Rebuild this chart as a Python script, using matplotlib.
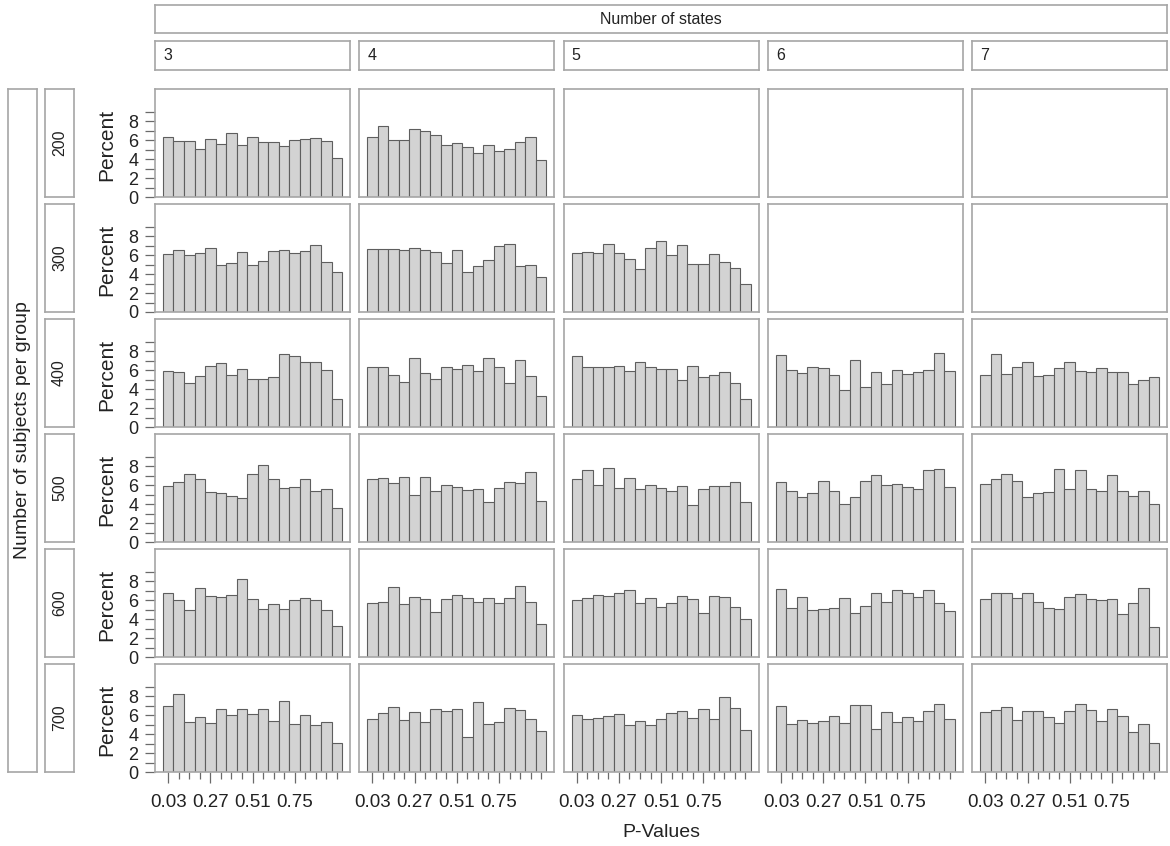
import matplotlib
matplotlib.use("Agg")
import matplotlib.pyplot as plt

plt.rcParams["font.family"] = ["Liberation Sans", "DejaVu Sans"]

# p-value histograms: 17 bins of width 0.06, percent of simulations per bin
BIN_MIDS = [0.03, 0.09, 0.15, 0.21, 0.27, 0.33, 0.39, 0.45, 0.51,
            0.57, 0.63, 0.69, 0.75, 0.81, 0.87, 0.93, 0.99]
BIN_WIDTH = 0.06
TICK_LABELS = ["0.03", "0.27", "0.51", "0.75"]

STATES = [3, 4, 5, 6, 7]
SUBJECTS = [200, 300, 400, 500, 600, 700]

PCT_S3 = {
    200: [6.38, 5.92, 5.92, 5.09, 6.17, 5.61, 6.76, 5.47, 6.34, 5.82, 5.82, 5.37, 6.06, 6.17, 6.24, 5.92, 4.15],
    300: [6.1, 6.5, 6.0, 6.2, 6.8, 5.0, 5.2, 6.3, 5.0, 5.4, 6.4, 6.5, 6.2, 6.4, 7.1, 5.3, 4.2],
    400: [5.87, 5.77, 4.62, 5.35, 6.47, 6.71, 5.45, 6.08, 5.07, 5.07, 5.24, 7.73, 7.48, 6.89, 6.89, 5.98, 2.97],
    500: [5.9, 6.3, 7.2, 6.6, 5.3, 5.2, 4.9, 4.6, 7.2, 8.1, 6.6, 5.7, 5.8, 6.6, 5.4, 5.6, 3.6],
    600: [6.8, 6.0, 5.0, 7.3, 6.4, 6.3, 6.5, 8.2, 6.1, 5.1, 5.6, 5.1, 6.0, 6.2, 6.0, 5.0, 3.3],
    700: [6.93, 8.27, 5.23, 5.76, 5.16, 6.64, 6.01, 6.64, 6.15, 6.64, 5.34, 7.53, 5.05, 6.04, 4.95, 5.23, 3.11],
}
PCT_S4 = {
    200: [6.34, 7.49, 6.06, 6.06, 7.14, 6.93, 6.59, 5.47, 5.71, 5.33, 4.67, 5.47, 4.88, 5.09, 5.82, 6.34, 3.87],
    300: [6.7, 6.7, 6.7, 6.5, 6.8, 6.5, 6.3, 5.2, 6.5, 4.2, 4.9, 5.5, 7.0, 7.2, 4.9, 5.0, 3.7],
    400: [6.36, 6.36, 5.45, 4.72, 7.31, 5.66, 5.07, 6.36, 6.08, 6.57, 5.87, 7.31, 6.29, 4.62, 7.10, 5.35, 3.22],
    500: [6.6, 6.8, 6.2, 6.9, 5.0, 6.9, 5.4, 6.0, 5.8, 5.5, 5.6, 4.2, 5.7, 6.3, 6.2, 7.4, 4.3],
    600: [5.7, 5.8, 7.4, 5.6, 6.3, 6.1, 4.7, 6.1, 6.5, 6.2, 5.8, 6.2, 5.7, 6.2, 7.5, 5.8, 3.5],
    700: [5.6, 6.2, 6.9, 5.5, 6.3, 5.3, 6.6, 6.4, 6.7, 3.7, 7.4, 5.1, 5.3, 6.8, 6.5, 5.6, 4.3],
}
PCT_S5 = {
    300: [6.24, 6.34, 6.24, 7.21, 6.24, 5.61, 4.49, 6.72, 7.53, 6.03, 7.04, 5.02, 5.02, 6.13, 5.33, 4.60, 2.96],
    400: [7.48, 6.29, 6.29, 6.29, 6.47, 5.87, 6.89, 6.36, 6.08, 6.08, 4.97, 6.47, 5.24, 5.45, 5.77, 4.62, 2.97],
    500: [6.6, 7.6, 6.0, 7.8, 5.7, 6.8, 5.6, 6.0, 5.7, 5.4, 5.9, 3.9, 5.6, 5.9, 5.9, 6.3, 4.2],
    600: [6.0, 6.2, 6.5, 6.4, 6.8, 7.1, 5.7, 6.2, 5.3, 5.7, 6.4, 6.1, 4.6, 6.4, 6.3, 5.3, 4.0],
    700: [6.0, 5.6, 5.7, 5.9, 6.1, 5.0, 5.4, 5.0, 5.6, 6.2, 6.4, 5.7, 6.6, 5.6, 7.9, 6.8, 4.4],
}
PCT_S6 = {
    400: [7.59, 5.98, 5.66, 6.36, 6.19, 5.45, 3.88, 7.10, 4.20, 5.77, 4.51, 5.98, 5.56, 5.77, 5.98, 7.83, 5.87],
    500: [6.3, 5.4, 4.8, 5.2, 6.4, 5.4, 4.0, 4.8, 6.4, 7.1, 6.0, 6.1, 5.8, 5.6, 7.6, 7.7, 5.8],
    600: [7.2, 5.2, 6.3, 5.0, 5.1, 5.2, 6.2, 4.6, 5.4, 6.8, 5.8, 7.1, 6.8, 6.3, 7.1, 5.7, 4.9],
    700: [7.0, 5.1, 5.5, 5.2, 5.4, 5.9, 5.2, 7.1, 7.1, 4.5, 6.3, 5.3, 5.8, 5.4, 6.4, 7.2, 5.6],
}
PCT_S7 = {
    400: [5.45, 7.69, 5.56, 6.29, 6.82, 5.35, 5.45, 6.19, 6.82, 5.87, 5.77, 6.19, 5.77, 5.77, 4.51, 4.93, 5.24],
    500: [6.1, 6.6, 7.2, 6.4, 4.8, 5.2, 5.3, 7.7, 5.6, 7.6, 5.6, 5.4, 7.1, 5.4, 4.9, 5.4, 4.0],
    600: [6.1, 6.8, 6.8, 6.2, 6.8, 5.8, 5.2, 5.1, 6.3, 6.7, 6.1, 6.0, 6.1, 4.5, 5.7, 7.3, 3.2],
    700: [6.32, 6.56, 6.81, 5.47, 6.46, 6.39, 5.79, 5.16, 6.39, 7.16, 6.56, 5.37, 6.63, 5.96, 4.25, 5.05, 3.02],
}
PCT = {3: PCT_S3, 4: PCT_S4, 5: PCT_S5, 6: PCT_S6, 7: PCT_S7}

W, H = 1170, 846
FRAME = "#a6a6a6"
TEXT = "#222222"


def px_axes(fig, x0, y0, x1, y1):
    """Add axes from pixel box (top-left origin)."""
    return fig.add_axes([x0 / W, 1 - y1 / H, (x1 - x0) / W, (y1 - y0) / H])


def strip(fig, x0, y0, x1, y1, label, vertical=False, left=False, size=11.5):
    ax = px_axes(fig, x0, y0, x1, y1)
    ax.set_xticks([])
    ax.set_yticks([])
    for s in ax.spines.values():
        s.set_color(FRAME)
        s.set_linewidth(1.2)
    if vertical:
        ax.text(0.5, 0.5, label, rotation=90, ha="center", va="center",
                fontsize=size, color=TEXT, transform=ax.transAxes)
    elif left:
        ax.text(8 / (x1 - x0), 0.5, label, ha="left", va="center",
                fontsize=size, color=TEXT, transform=ax.transAxes)
    else:
        ax.text(0.5, 0.5, label, ha="center", va="center",
                fontsize=size, color=TEXT, transform=ax.transAxes)
    return ax


fig = plt.figure(figsize=(W / 100, H / 100), dpi=100)

col_x = [155 + i * 204.3 for i in range(len(STATES))]
row_y = [89 + j * 115 for j in range(len(SUBJECTS))]
PW, PH = 195, 108

# strips across the top
strip(fig, col_x[0], 5, col_x[-1] + PW, 33, "Number of states")
for i, s in enumerate(STATES):
    strip(fig, col_x[i], 41, col_x[i] + PW, 70, str(s), left=True)

# strips down the left
strip(fig, 8, row_y[0], 37, row_y[-1] + PH, "Number of subjects per group",
      vertical=True, size=14)
for j, n in enumerate(SUBJECTS):
    strip(fig, 45, row_y[j], 74, row_y[j] + PH, str(n), vertical=True)

for j, n in enumerate(SUBJECTS):
    for i, s in enumerate(STATES):
        ax = px_axes(fig, col_x[i], row_y[j], col_x[i] + PW, row_y[j] + PH)
        vals = PCT[s].get(n)
        if vals is not None:
            ax.bar(BIN_MIDS, vals, width=BIN_WIDTH, color="#d3d3d3",
                   edgecolor="#5e5e5e", linewidth=0.8, zorder=2)
        ax.set_xlim(-0.045, 1.065)
        ax.set_ylim(0, 11.4)
        for sp in ax.spines.values():
            sp.set_color(FRAME)
            sp.set_linewidth(1.2)

        if i == 0:
            ax.set_yticks([0, 2, 4, 6, 8])
            ax.set_yticks([1, 3, 5, 7, 9], minor=True)
            ax.tick_params(axis="y", which="both", length=7, width=0.9,
                           color="#6a6a6a", labelsize=13, labelcolor=TEXT, pad=5)
            fig.text(107 / W, 1 - (row_y[j] + PH / 2 + 2) / H, "Percent",
                     rotation=90, ha="center", va="center", fontsize=15, color=TEXT)
        else:
            ax.set_yticks([])
            ax.set_yticks([], minor=True)

        if j == len(SUBJECTS) - 1:
            ax.set_xticks([0.03, 0.27, 0.51, 0.75])
            ax.set_xticklabels(TICK_LABELS)
            ax.set_xticks([m for m in BIN_MIDS if m not in (0.03, 0.27, 0.51, 0.75)], minor=True)
            ax.tick_params(axis="x", which="major", length=8, width=0.9,
                           color="#6a6a6a", labelsize=13.5, labelcolor=TEXT, pad=8)
            ax.tick_params(axis="x", which="minor", length=5, width=0.9, color="#6a6a6a")
        else:
            ax.set_xticks([])
            ax.set_xticks([], minor=True)

fig.text((col_x[0] + col_x[-1] + PW) / 2 / W, 1 - 832 / H, "P-Values",
         ha="center", va="center", fontsize=14, color=TEXT)

fig.savefig("out.png", dpi=100)
